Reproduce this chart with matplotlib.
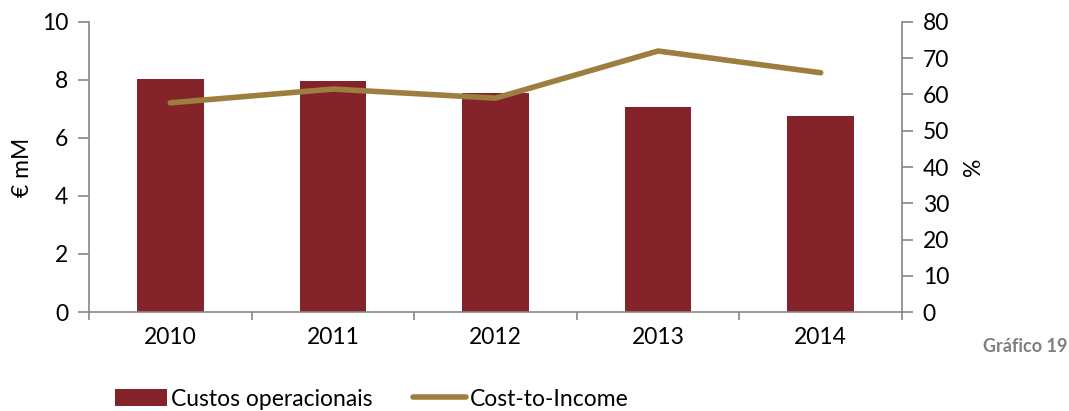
import matplotlib
matplotlib.use("Agg")
import matplotlib.pyplot as plt
import numpy as np

years = ["2010", "2011", "2012", "2013", "2014"]
custos = [8.05, 7.98, 7.55, 7.08, 6.75]
cost_to_income = [57.7, 61.5, 59.0, 72.0, 66.0]

plt.rcParams['font.family'] = ['Lato', 'DejaVu Sans']
bar_color = "#84232A"
line_color = "#9E7E3F"
spine_color = "#868686"
fs = 16.5

fig = plt.figure(figsize=(10.69, 4.11), dpi=100)
ax = fig.add_axes([89/1069, 99/411, (902-89)/1069, (312-22)/411])
x = np.arange(len(years))
bars = ax.bar(x, custos, width=0.41, color=bar_color, label="Custos operacionais", zorder=2)
ax.set_xlim(-0.5, len(years) - 0.5)
ax.set_ylim(0, 10)
ax.set_yticks(range(0, 11, 2))
ax.set_xticks(x)
ax.set_xticklabels(years)
ax.set_xticks(np.arange(-0.5, len(years), 1), minor=True)
ax.tick_params(axis='x', which='major', length=0, pad=11, labelsize=fs)
ax.tick_params(axis='x', which='minor', length=6, direction='out', color=spine_color, width=1.2)
ax.tick_params(axis='y', length=8, direction='out', color=spine_color, width=1.2, labelsize=fs, pad=7)
for s in ['top', 'right']:
    ax.spines[s].set_visible(False)
for s in ['left', 'bottom']:
    ax.spines[s].set_color(spine_color)
    ax.spines[s].set_linewidth(1.2)
ax.set_ylabel("€ mM", fontsize=fs, labelpad=6)

ax2 = ax.twinx()
line, = ax2.plot(x, cost_to_income, color=line_color, lw=4, solid_capstyle='round',
                 label="Cost-to-Income", zorder=3)
ax2.set_ylim(0, 80)
ax2.set_yticks(range(0, 81, 10))
ax2.tick_params(axis='y', length=8, direction='out', color=spine_color, width=1.2, labelsize=fs, pad=7)
for s in ['top', 'left', 'bottom']:
    ax2.spines[s].set_visible(False)
ax2.spines['right'].set_color(spine_color)
ax2.spines['right'].set_linewidth(1.2)
ax2.set_ylabel("%", fontsize=fs, labelpad=10)

fig.legend(handles=[bars, line], loc='center left', bbox_to_anchor=(110/1069, 1 - 399/411),
           ncol=2, frameon=False, fontsize=16.5, handlelength=2.3, handleheight=0.75,
           handletextpad=0.15, columnspacing=1.8, borderaxespad=0, borderpad=0.2)

fig.text(1067/1069, 1 - 347/411, "Gráfico 19", fontsize=13, fontweight='bold',
         color="#7F7F7F", va='center', ha='right')

fig.savefig("out.png", dpi=100)
